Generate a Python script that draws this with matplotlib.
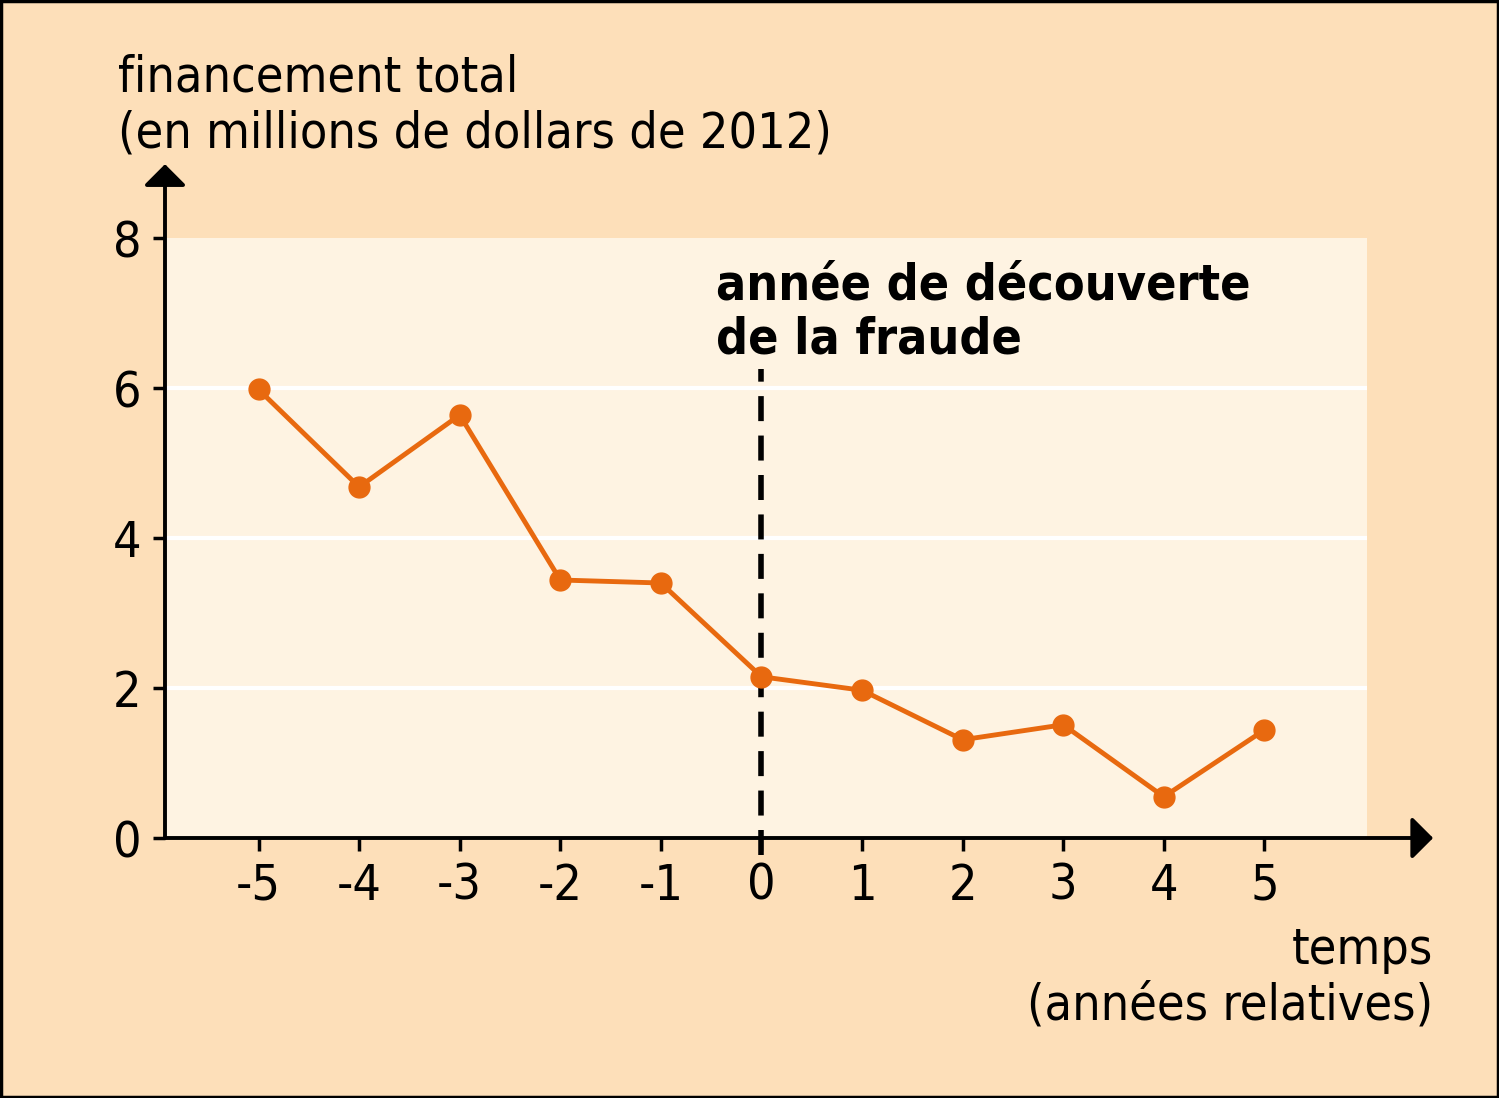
import matplotlib
matplotlib.use('Agg')
import matplotlib.pyplot as plt
from matplotlib.patches import Rectangle

# Données du graphique
annees = [-5, -4, -3, -2, -1, 0, 1, 2, 3, 4, 5]
financement = [5.98, 4.68, 5.64, 3.44, 3.40, 2.15, 1.97, 1.31, 1.51, 0.55, 1.44]
y_ticks = [0, 2, 4, 6, 8]

# Couleurs
fond = '#FDDFB9'
fond_graph = '#FEF3E2'
orange = '#E8690F'

plt.rcParams['font.family'] = ['DejaVu Sans']
plt.rcParams['font.stretch'] = 'condensed'

fig = plt.figure(figsize=(14.99, 10.98), dpi=100)
fig.patch.set_facecolor(fond)
W, H = 1499, 1098

# cadre noir autour de la figure
fig.patches.append(Rectangle((0.001, 0.001), 0.998, 0.998, transform=fig.transFigure,
                             fill=False, edgecolor='black', linewidth=2.5))

ax = fig.add_axes([165 / W, (H - 838) / H, (1367 - 165) / W, 600 / H])
ax.set_facecolor(fond_graph)
ax.set_xlim(-5.93, 6.02)
ax.set_ylim(0, 8)

for s in ax.spines.values():
    s.set_visible(False)

# grille blanche
for yv in [2, 4, 6]:
    ax.axhline(yv, color='white', lw=3, zorder=1)

# axes avec flèches
fleche = dict(arrowstyle='-|>,head_length=0.65,head_width=0.65', color='black', lw=2.8,
              shrinkA=0, shrinkB=0, mutation_scale=20)
ax.annotate('', xy=(1.055, 0), xytext=(0, 0), xycoords='axes fraction',
            arrowprops=fleche, annotation_clip=False)
ax.annotate('', xy=(0, 1.123), xytext=(0, 0), xycoords='axes fraction',
            arrowprops=fleche, annotation_clip=False)

ax.set_xticks(annees)
ax.set_xticklabels([str(a) for a in annees])
ax.set_yticks(y_ticks)
ax.tick_params(axis='both', length=9, width=2.5, color='black', labelsize=36, direction='out')
ax.tick_params(axis='x', pad=8)
ax.tick_params(axis='y', pad=8)

# ligne verticale pointillée (année 0)
ax.plot([0, 0], [-0.22, 6.25], color='black', lw=4, dashes=(4.5, 2.6), clip_on=False, zorder=3)

# courbe
ax.plot(annees, financement, color=orange, lw=3.5, marker='o', markersize=15, zorder=4, clip_on=False)

# textes
fig.text(118 / W, 1 - 78 / H, 'financement total', fontsize=36, va='center', ha='left')
fig.text(118 / W, 1 - 133 / H, '(en millions de dollars de 2012)', fontsize=36, va='center', ha='left')
fig.text(716 / W, 1 - 285 / H, 'année de découverte', fontsize=36, fontweight='bold', va='center', ha='left')
fig.text(716 / W, 1 - 340 / H, 'de la fraude', fontsize=36, fontweight='bold', va='center', ha='left')
fig.text(1433 / W, 1 - 950 / H, 'temps', fontsize=36, va='center', ha='right')
fig.text(1433 / W, 1 - 1005 / H, '(années relatives)', fontsize=36, va='center', ha='right')

fig.savefig('out.png', dpi=100, facecolor=fond)
